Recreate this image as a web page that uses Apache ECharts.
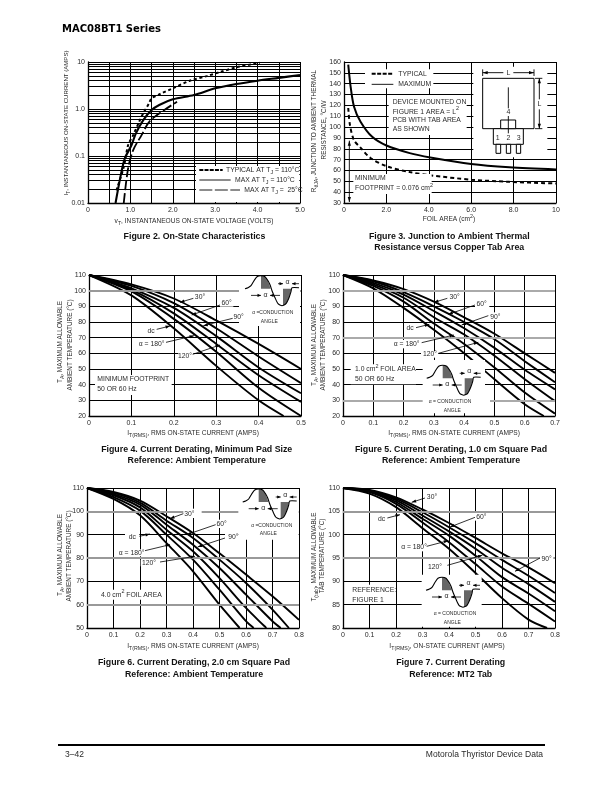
<!DOCTYPE html>
<html><head><meta charset="utf-8">
<style>html,body{margin:0;padding:0;background:#fff}#c{width:612px;height:792px}</style>
<script src="https://cdn.jsdelivr.net/npm/echarts@6/dist/echarts.min.js"></script>
</head><body><div id="c"></div>
<script>
// ---------- DATA ----------
const fig2Typical=[[0.67,0.0186],[0.843,0.058],[0.945,0.169],[1.063,0.275],[1.205,0.53],[1.30,0.8],[1.44,1.32],[1.5,1.69],[1.68,2.05],[2.0,2.75],[2.4,4.0],[2.8,5.0],[3.13,6.2],[3.5,7.7],[3.9,9.1],[4.05,9.6]];
const fig2Max110=[[0.65,0.01],[0.765,0.036],[0.867,0.088],[1.025,0.169],[1.127,0.30],[1.30,0.575],[1.5,0.95],[1.68,1.22],[2.0,1.61],[2.5,1.99],[3.0,2.75],[3.5,3.4],[4.0,4.0],[4.5,4.6],[5.0,5.3]];
const fig2Max25=[[0.843,0.01],[0.945,0.054],[1.063,0.132],[1.26,0.275],[1.457,0.55],[1.8,0.95],[2.1,1.43]];
const fig2MinorY=[0.02,0.03,0.04,0.05,0.06,0.07,0.08,0.09,0.2,0.3,0.4,0.5,0.6,0.7,0.8,0.9,2,3,4,5,6,7,8,9];
const fig2YLabels=['0.01','0.1','1.0','10'];

const fig3Maximum=[[0.2,157.5],[0.31,137.6],[0.47,119],[0.78,105],[1.33,91],[2,83],[3.1,76],[4.07,72],[6,66],[7.8,63],[10,61]];
const fig3Typical=[[0.2,117.6],[0.28,102],[0.47,88],[0.78,81],[1.25,71.5],[2,64],[3.1,58.5],[4.07,55.5],[6,51.5],[7.8,49.5],[10,48]];

const fig4_30=[[0,110],[0.1,104],[0.2,95],[0.3,81],[0.4,66],[0.5,50]];
const fig4_60=[[0,110],[0.1,103],[0.2,92],[0.3,76],[0.4,58],[0.5,41]];
const fig4_90=[[0,110],[0.1,101.5],[0.2,89],[0.3,71],[0.4,51],[0.5,34.5]];
const fig4_120=[[0,110],[0.1,100.5],[0.2,85.5],[0.3,66],[0.4,46],[0.5,29]];
const fig4_180=[[0,110],[0.1,99.5],[0.2,82],[0.3,61],[0.4,38],[0.5,20]];
const fig4_dc=[[0,110],[0.1,97],[0.2,76],[0.3,52],[0.4,30],[0.459,20]];

const fig5_30=[[0,110],[0.1,106.5],[0.2,101],[0.3,93],[0.4,83],[0.5,72.5],[0.6,60],[0.7,47.5]];
const fig5_60=[[0,110],[0.1,106],[0.2,99],[0.3,90],[0.4,80],[0.5,69],[0.6,55],[0.7,41.5]];
const fig5_90=[[0,110],[0.1,105],[0.2,97.5],[0.3,87],[0.4,76],[0.5,63.5],[0.6,49.5],[0.7,37]];
const fig5_120=[[0,110],[0.1,104],[0.2,95.5],[0.3,83],[0.4,72],[0.5,58.5],[0.6,43.5],[0.7,29.5]];
const fig5_180=[[0,110],[0.1,103],[0.2,93],[0.3,79],[0.4,66],[0.5,51],[0.6,35],[0.7,21.5]];
const fig5_dc=[[0,110],[0.1,101.5],[0.2,89],[0.3,75],[0.4,60],[0.5,43.5],[0.6,27.5],[0.663,20]];

const fig6_30=[[0,110],[0.1,108.3],[0.2,104.6],[0.3,97.9],[0.4,90.7],[0.5,82],[0.6,72.9],[0.7,63.6],[0.8,53.5]];
const fig6_60=[[0,110],[0.1,107.9],[0.2,103.7],[0.3,96],[0.4,88.6],[0.5,79.3],[0.6,69.3],[0.7,57.9],[0.762,50]];
const fig6_90=[[0,110],[0.1,107.4],[0.2,102.9],[0.3,94.3],[0.4,85.7],[0.5,75.7],[0.6,64.3],[0.7,52.9],[0.731,50]];
const fig6_120=[[0,110],[0.1,106.9],[0.2,101.7],[0.3,92.1],[0.4,82.9],[0.5,71.4],[0.6,58.6],[0.677,50]];
const fig6_180=[[0,110],[0.1,106.1],[0.2,100.3],[0.3,90],[0.4,79.3],[0.5,66.4],[0.6,52.9],[0.629,50]];
const fig6_dc=[[0,110],[0.1,105.3],[0.2,98.3],[0.3,86.4],[0.4,74.3],[0.5,60],[0.576,50]];

const fig7_30=[[0,110],[0.1,109.6],[0.2,108],[0.3,105.4],[0.4,102.5],[0.5,99.3],[0.6,96],[0.7,93],[0.8,89.6]];
const fig7_60=[[0,110],[0.1,109.5],[0.2,107.7],[0.3,104.8],[0.4,101.6],[0.5,98.2],[0.6,94.6],[0.7,91.2],[0.8,87.5]];
const fig7_90=[[0,110],[0.1,109.4],[0.2,107.4],[0.3,104.1],[0.4,100.7],[0.5,97],[0.6,92.9],[0.7,89.4],[0.8,85.6]];
const fig7_120=[[0,110],[0.1,109.3],[0.2,107],[0.3,103.4],[0.4,99.8],[0.5,95.5],[0.6,90.9],[0.7,87.4],[0.8,83.6]];
const fig7_180=[[0,110],[0.1,109.1],[0.2,106.6],[0.3,102.6],[0.4,98.4],[0.5,93.7],[0.6,88.9],[0.7,85.2],[0.8,81.4]];
const fig7_dc=[[0,110],[0.1,108.8],[0.2,105.9],[0.3,101.4],[0.4,97],[0.5,91.8],[0.6,86.4],[0.7,81.8],[0.77,80]];

const fig4Gray=[100], fig5Gray=[100,70,30], fig6Gray=[100,80,60], fig7Gray=[105,95];

// ---------- LAYOUT ----------
const FONT='Liberation Sans', INK='#2a2a2a';
const grids=[
 {left:88,top:62,width:212,height:141},{left:344,top:62,width:212,height:141},
 {left:89,top:275,width:212,height:141},{left:343,top:275,width:212,height:141},
 {left:87,top:488,width:212,height:140},{left:343,top:488,width:212,height:140}];
const ltick=(f)=>({fontFamily:FONT,fontSize:7,color:INK,margin:4,formatter:f,hideOverlap:false,showMinLabel:true,showMaxLabel:true});
const split={show:true,lineStyle:{color:'#000',width:1}};
function xAx(i,max,interval,f){return {type:'value',gridIndex:i,min:0,max,interval,axisLine:{show:true,onZero:false,lineStyle:{color:'#000',width:1.3}},axisTick:{show:false},splitLine:split,axisLabel:ltick(f)};}
function yAx(i,min,max,interval,f){return {type:'value',gridIndex:i,min,max,interval,axisLine:{show:true,onZero:false,lineStyle:{color:'#000',width:1.3}},axisTick:{show:false},splitLine:split,axisLabel:Object.assign(ltick(f),{margin:3})};}
const f1=v=>v===0?'0':v.toFixed(1);
const xAxis=[
 xAx(0,5,0.5,v=>Number.isInteger(v)?(v===0?'0':v.toFixed(1)):''),
 xAx(1,10,2,v=>v===0?'0':(v===10?'10':v.toFixed(1))),
 xAx(2,0.5,0.1,f1),xAx(3,0.7,0.1,f1),xAx(4,0.8,0.1,f1),xAx(5,0.8,0.1,f1)];
const yAxis=[
 {type:'log',logBase:10,gridIndex:0,min:0.01,max:10,axisLine:{show:true,lineStyle:{color:'#000',width:1.3}},axisTick:{show:false},minorTick:{show:false},splitLine:split,axisLabel:Object.assign(ltick((v,i)=>fig2YLabels[i]),{margin:3})},
 yAx(1,30,160,10,v=>String(v)),
 yAx(2,20,110,10,v=>String(v)),yAx(3,20,110,10,v=>String(v)),
 yAx(4,50,110,10,v=>String(v)),yAx(5,80,110,5,v=>String(v))];

function curve(i,name,data,width,dash){return {type:'line',name,xAxisIndex:i,yAxisIndex:i,data,smooth:0.3,showSymbol:false,symbol:'none',z:3,
  lineStyle:{color:'#000',width:width,type:dash||'solid',cap:'butt'},animation:false};}
function hlines(i,vals,color,width){return {type:'line',xAxisIndex:i,yAxisIndex:i,data:[],z:1,silent:true,animation:false,
  markLine:{silent:true,symbol:'none',animation:false,label:{show:false},lineStyle:{color,width,type:'solid'},data:vals.map(v=>({yAxis:v}))}};}
const W=1.9;
const names=['30°','60°','90°','120°','α = 180°','dc'];
function six(i,arrs){return arrs.map((a,k)=>curve(i,names[k],a,W));}
const series=[
 hlines(0,fig2MinorY,'#000',1),
 hlines(2,fig4Gray,'#999',2),hlines(3,fig5Gray,'#aaa',2),hlines(4,fig6Gray,'#999',2),hlines(5,fig7Gray,'#999',2),
 curve(0,'TYPICAL AT TJ = 110°C',fig2Typical,2,[3,2.6]),
 curve(0,'MAX AT TJ = 110°C',fig2Max110,2.1),
 curve(0,'MAX AT TJ = 25°C',fig2Max25,1.8,[10,3]),
 curve(1,'TYPICAL',fig3Typical,2,[4,3]),
 curve(1,'MAXIMUM',fig3Maximum,2),
 ...six(2,[fig4_30,fig4_60,fig4_90,fig4_120,fig4_180,fig4_dc]),
 ...six(3,[fig5_30,fig5_60,fig5_90,fig5_120,fig5_180,fig5_dc]),
 ...six(4,[fig6_30,fig6_60,fig6_90,fig6_120,fig6_180,fig6_dc]),
 ...six(5,[fig7_30,fig7_60,fig7_90,fig7_120,fig7_180,fig7_dc])
];

// ---------- TEXT & ANNOTATION HELPERS ----------
const g=[];
function T(x,y,text,o){o=o||{};const size=o.size||7;
  g.push({type:'text',x,y,rotation:o.rot||0,z:110,silent:true,style:{text,fontFamily:o.family||FONT,fontSize:size,fontWeight:o.weight||'normal',fill:o.fill||INK,align:o.align||'left',verticalAlign:'middle',
    rich:{sub:{fontFamily:FONT,fontSize:size*0.8,fill:o.fill||INK,verticalAlign:'bottom',lineHeight:size*1.55,fontWeight:o.weight||'normal'},
          sup:{fontFamily:FONT,fontSize:size*0.8,fill:o.fill||INK,verticalAlign:'top',lineHeight:size*1.55,fontWeight:o.weight||'normal'}}}});}
function box(x1,y1,x2,y2){g.push({type:'rect',z:90,silent:true,shape:{x:x1,y:y1,width:x2-x1,height:y2-y1},style:{fill:'#fff'}});}
function ln(x1,y1,x2,y2,w,dash){g.push({type:'line',z:100,silent:true,shape:{x1,y1,x2,y2},style:{stroke:'#000',lineWidth:w||0.8,lineDash:dash||null}});}
function arrowHead(x1,y1,x2,y2,len){const a=Math.atan2(y2-y1,x2-x1),L=len||4.5,H=1.6,c=Math.cos(a),s=Math.sin(a);
  g.push({type:'polygon',z:100,silent:true,shape:{points:[[x2,y2],[x2-L*c-H*s,y2-L*s+H*c],[x2-L*c+H*s,y2-L*s-H*c]]},style:{fill:'#000'}});}
function crop(cx,cy){return (x,y)=>[cx+x/3,cy+y/3];}
function leader(c,x1,y1,x2,y2){const a=c(x1,y1),b=c(x2,y2);ln(a[0],a[1],b[0],b[1],0.8);arrowHead(a[0],a[1],b[0],b[1]);}
function label(c,x,y,s,o){const p=c(x,y);T(p[0],p[1],s,Object.assign({align:'center',size:6.8},o||{}));}
function cbox(c,x1,y1,x2,y2){const a=c(x1,y1),b=c(x2,y2);box(a[0],a[1],b[0],b[1]);}
function ltext(c,x,y,s,o){const p=c(x,y);T(p[0],p[1],s,Object.assign({size:6.8},o||{}));}
const sineWave=[[0,0],[3,-1],[6,-3],[9,-8],[12,-12],[16,-13],[20,-12],[23,-8],[25,-4],[27,2],[30,9],[33,15],[37,17],[41,15],[44,9],[46,3],[47,-1],[54,-1]];
const sineShade1=[[16,-13],[16,0],[25.6,0],[23,-8],[20,-12]];
const sineShade2=[[38,0],[46.5,0],[44,9],[41,15],[38,17]];
function sine(ox,oy){
  const off=a=>a.map(p=>[ox+p[0],oy+p[1]]);
  g.push({type:'polygon',z:100,silent:true,shape:{points:off(sineShade1)},style:{fill:'#666'}});
  g.push({type:'polygon',z:100,silent:true,shape:{points:off(sineShade2)},style:{fill:'#666'}});
  g.push({type:'polyline',z:100,silent:true,shape:{points:off(sineWave),smooth:0.2},style:{fill:null,stroke:'#000',lineWidth:1.1}});
  const hA=(x1,x2,y)=>{ln(ox+x1,oy+y,ox+x2,oy+y,0.8);arrowHead(ox+x1,oy+y,ox+x2,oy+y,3.5);};
  hA(6,16,6.7);hA(35,25,6.7);hA(33,38,-5);hA(54,47,-5);
  T(ox+20.5,oy+6,'α',{size:7,align:'center'});T(ox+42.5,oy-7,'α',{size:7,align:'center'});
}

// ---------- PAGE TEXT ----------
T(62,29,'MAC08BT1 Series',{size:10,weight:'bold',family:'DejaVu Sans',fill:'#000'});
g.push({type:'rect',z:100,silent:true,shape:{x:58,y:744,width:487,height:2},style:{fill:'#000'}});
T(65,755,'3–42',{size:8.5});
T(543,755,'Motorola Thyristor Device Data',{size:8.5,align:'right'});
const FT={size:8.8,weight:'bold',align:'center',fill:'#111'};
T(194.5,237,'Figure 2. On-State Characteristics',FT);
T(449.3,237,'Figure 3. Junction to Ambient Thermal',FT);T(449.3,248,'Resistance versus Copper Tab Area',FT);
T(196.7,450,'Figure 4. Current Derating, Minimum Pad Size',FT);T(196.7,461,'Reference: Ambient Temperature',FT);
T(451,450,'Figure 5. Current Derating, 1.0 cm Square Pad',FT);T(451,461,'Reference: Ambient Temperature',FT);
T(194,663,'Figure 6. Current Derating, 2.0 cm Square Pad',FT);T(194,675,'Reference: Ambient Temperature',FT);
T(450.7,663,'Figure 7. Current Derating',FT);T(450.7,675,'Reference: MT2 Tab',FT);

const XT={size:6.6,align:'center'};
T(194,221,'v{sub|T}, INSTANTANEOUS ON-STATE VOLTAGE (VOLTS)',XT);
T(449,219,'FOIL AREA (cm{sup|2})',XT);
T(193,433,'I{sub|T(RMS)}, RMS ON-STATE CURRENT (AMPS)',XT);
T(454,433,'I{sub|T(RMS)}, RMS ON-STATE CURRENT (AMPS)',XT);
T(193,646,'I{sub|T(RMS)}, RMS ON-STATE CURRENT (AMPS)',XT);
T(447,646,'I{sub|T(RMS)}, ON-STATE CURRENT (AMPS)',XT);

const YT={size:6.4,align:'center',rot:Math.PI/2};
T(66.7,123,'I{sub|T}, INSTANTANEOUS ON-STATE CURRENT (AMPS)',{size:6.1,align:'center',rot:Math.PI/2});
T(314.3,131,'R{sub|θJA}, JUNCTION TO AMBIENT THERMAL',YT);T(324,130,'RESISTANCE, °C/W',YT);
T(60,342,'T{sub|A}, MAXIMUM ALLOWABLE',YT);T(70,345,'AMBIENT TEMPERATURE (°C)',YT);
T(314,345,'T{sub|A}, MAXIMUM ALLOWABLE',YT);T(323.3,345,'AMBIENT TEMPERATURE (°C)',YT);
T(60,555,'T{sub|A}, MAXIMUM ALLOWABLE',YT);T(69.3,556,'AMBIENT TEMPERATURE (°C)',YT);
T(314,557,'T{sub|(tab)}, MAXIMUM ALLOWABLE',YT);T(322.7,556,'TAB TEMPERATURE (°C)',YT);

// Figure 2 legend
const c1=crop(40,20);
cbox(c1,468,438,778,546);
{const a=c1(478,450),b=c1(548,450);ln(a[0],a[1],b[0],b[1],2.2,[4,1.2]);
 const a2=c1(478,480),b2=c1(572,480);ln(a2[0],a2[1],b2[0],b2[1],0.9);
 const a3=c1(478,510),b3=c1(600,510);ln(a3[0],a3[1],b3[0],b3[1],0.9,[13,2.5]);}
ltext(c1,558,450,'TYPICAL AT T{sub|J} = 110°C');
ltext(c1,585,480,'MAX AT T{sub|J} = 110°C');
ltext(c1,613,510,'MAX AT T{sub|J} =  25°C');

// Figure 3 annotations
const c2=crop(310,50);
cbox(c2,165,58,370,115);cbox(c2,236,135,470,255);cbox(c2,490,50,712,322);cbox(c2,130,372,365,432);
{const a=c2(185,71),b=c2(250,71);ln(a[0],a[1],b[0],b[1],2,[4,1.5]);
 const a2=c2(185,103),b2=c2(250,103);ln(a2[0],a2[1],b2[0],b2[1],0.9);}
ltext(c2,265,73,'TYPICAL');ltext(c2,265,103,'MAXIMUM');
ltext(c2,248,155,'DEVICE MOUNTED ON');ltext(c2,248,185,'FIGURE 1 AREA = L{sup|2}');ltext(c2,248,210,'PCB WITH TAB AREA');ltext(c2,248,238,'AS SHOWN');
ltext(c2,135,385,'MINIMUM');ltext(c2,135,415,'FOOTPRINT = 0.076 cm{sup|2}');
{const a=c2(118,365),t=c2(118,272),d=c2(118,456);ln(t[0],t[1],d[0],d[1],0.9);arrowHead(a[0],a[1],t[0],t[1],5);arrowHead(a[0],a[1],d[0],d[1],5);}
// package outline
function R(c,x1,y1,x2,y2){const a=c(x1,y1),b=c(x2,y2);g.push({type:'rect',z:100,silent:true,shape:{x:a[0],y:a[1],width:b[0]-a[0],height:b[1]-a[1]},style:{fill:'#fff',stroke:'#000',lineWidth:1}});}
function L(c,x1,y1,x2,y2){const a=c(x1,y1),b=c(x2,y2);ln(a[0],a[1],b[0],b[1],0.9);}
R(c2,518,85,672,236);R(c2,550,236,640,283);R(c2,572,210,617,236);
R(c2,558,283,572,310);R(c2,589,283,602,310);R(c2,619,283,632,310);
L(c2,595,112,595,175);L(c2,595,198,595,250);
label(c2,595,187,'4',{size:7});label(c2,563,264,'1',{size:7});label(c2,595,264,'2',{size:7,});label(c2,626,264,'3',{size:7});
L(c2,518,58,518,78);L(c2,672,58,672,78);L(c2,518,68,580,68);L(c2,610,68,672,68);
{const m=c2(550,68),l=c2(518,68),m2=c2(640,68),r=c2(672,68);arrowHead(m[0],m[1],l[0],l[1],5);arrowHead(m2[0],m2[1],r[0],r[1],5);}
label(c2,595,68,'L',{size:7});
L(c2,675,85,697,85);L(c2,675,236,697,236);L(c2,688,85,688,148);L(c2,688,178,688,236);
{const m=c2(688,120),t=c2(688,85),m2=c2(688,200),d=c2(688,236);arrowHead(m[0],m[1],t[0],t[1],5);arrowHead(m2[0],m2[1],d[0],d[1],5);}
label(c2,688,163,'L',{size:7});

// Figure 4
const c3=crop(50,265);
cbox(c3,567,33,750,183);cbox(c3,135,330,365,390);
cbox(c3,430,88,470,106);cbox(c3,510,105,550,125);cbox(c3,548,145,590,165);cbox(c3,285,185,322,207);cbox(c3,262,225,350,248);cbox(c3,385,262,430,284);
leader(c3,430,100,390,112);leader(c3,510,120,425,150);leader(c3,548,160,460,182);leader(c3,320,193,360,183);leader(c3,348,232,432,212);leader(c3,428,268,510,240);
label(c3,450,97,'30°');label(c3,530,115,'60°');label(c3,566,155,'90°');label(c3,303,197,'dc');label(c3,305,237,'α = 180°');label(c3,405,273,'120°');
ltext(c3,142,343,'MINIMUM FOOTPRINT');ltext(c3,142,373,'50 OR 60 Hz');
sine(245,288.7);T(272.7,312.7,'α =CONDUCTION',{size:5,align:'center'});T(269.3,322,'ANGLE',{size:5,align:'center'});

// Figure 5
const c4=crop(310,265);
cbox(c4,338,285,525,445);cbox(c4,525,395,540,420);cbox(c4,122,298,318,358);
cbox(c4,412,85,456,108);cbox(c4,495,105,538,128);cbox(c4,535,142,578,166);cbox(c4,284,180,318,200);cbox(c4,245,225,335,250);cbox(c4,333,258,385,278);
leader(c4,412,100,372,112);leader(c4,495,120,415,148);leader(c4,535,152,455,180);leader(c4,318,188,358,178);leader(c4,335,233,432,210);leader(c4,385,265,505,232);
label(c4,434,97,'30°');label(c4,515,117,'60°');label(c4,556,155,'90°');label(c4,300,190,'dc');label(c4,290,238,'α = 180°');label(c4,360,268,'120°');
ltext(c4,135,313,'1.0 cm{sup|2} FOIL AREA');ltext(c4,135,343,'50 OR 60 Hz');
sine(426.7,378.3);T(450,401.7,'α = CONDUCTION',{size:5,align:'center'});T(452.3,410.7,'ANGLE',{size:5,align:'center'});

// Figure 6
const c5=crop(50,478);
cbox(c5,565,33,746,185);cbox(c5,145,335,335,365);
cbox(c5,400,92,455,120);cbox(c5,497,125,535,150);cbox(c5,525,165,565,188);cbox(c5,225,168,268,188);cbox(c5,200,214,285,235);cbox(c5,272,245,330,265);
leader(c5,400,107,360,122);leader(c5,497,140,410,170);leader(c5,525,180,443,207);leader(c5,268,175,300,168);leader(c5,285,218,360,200);leader(c5,330,252,435,235);
label(c5,418,107,'30°');label(c5,515,137,'60°');label(c5,550,176,'90°');label(c5,247,178,'dc');label(c5,245,224,'α = 180°');label(c5,297,255,'120°');
ltext(c5,153,350,'4.0 cm{sup|2} FOIL AREA');
sine(242.7,502);T(271.7,525.7,'α =CONDUCTION',{size:5,align:'center'});T(268.3,534,'ANGLE',{size:5,align:'center'});

// Figure 7
const c6=crop(310,478);
cbox(c6,335,290,515,446);cbox(c6,118,320,258,378);
cbox(c6,345,47,390,70);cbox(c6,495,105,540,128);cbox(c6,690,232,730,255);cbox(c6,200,112,232,134);cbox(c6,270,198,350,220);cbox(c6,355,258,412,280);
leader(c6,345,60,305,73);leader(c6,495,118,420,147);leader(c6,690,240,615,280);leader(c6,232,120,270,110);leader(c6,350,205,415,188);leader(c6,412,262,517,232);
label(c6,366,58,'30°');label(c6,514,117,'60°');label(c6,710,243,'90°');label(c6,215,123,'dc');label(c6,312,208,'α = 180°');label(c6,375,268,'120°');
ltext(c6,127,335,'REFERENCE:');ltext(c6,127,365,'FIGURE 1');
sine(426,590.3);T(455,614,'α = CONDUCTION',{size:5,align:'center'});T(452.3,622.7,'ANGLE',{size:5,align:'center'});

const chart=echarts.init(document.getElementById('c'),null,{renderer:'canvas',width:612,height:792});
chart.setOption({animation:false,backgroundColor:'#fff',grid:grids,xAxis,yAxis,series,graphic:{elements:g}});
</script></body></html>
